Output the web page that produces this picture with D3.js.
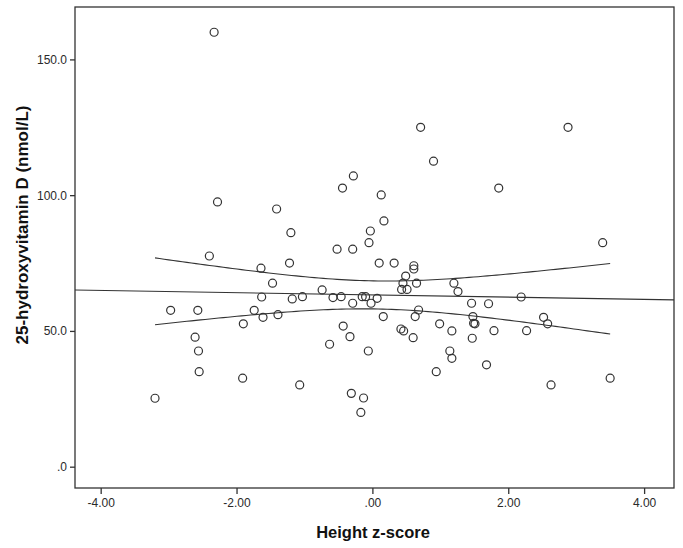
<!DOCTYPE html>
<html>
<head>
<meta charset="utf-8">
<script src="https://cdn.jsdelivr.net/npm/d3@7"></script>
<style>
  html, body { margin: 0; padding: 0; background: #fff; }
  svg { display: block; font-family: "Liberation Sans", Arial, sans-serif; }
</style>
</head>
<body>
<svg id="chart" width="683" height="548"></svg>
<script>
// Height z-score (x) for each child
const heightZ = [
  -2.33, 0.71, 2.88, 0.90, -0.28, -0.44, 0.13, 1.86, -2.28, -1.41,
  0.17, -0.03, -1.20, -0.05, 3.39, -0.52, -0.29, -2.40, -1.22, 0.10,
  0.32, -1.64, 0.61, 0.61, 0.49, -1.47, 0.45, 0.65, 1.20, 0.43,
  0.51, 1.26, -0.74, -1.63, -1.18, -1.03, -0.58, -0.46, -0.15, -0.10,
  0.07, 2.19, 1.71, -0.29, -0.02, 1.46, -2.97, -2.57, -1.74, 0.68,
  -1.39, -1.61, 0.16, 0.63, 1.48, 2.52, -1.90, 1.49, 1.51, 2.58,
  -0.43, 0.99, 1.17, 1.79, 2.27, 0.42, 0.46, -2.61, -0.33, 0.60,
  1.47, -0.63, -2.56, -0.06, 1.14, 1.17, 1.68, -2.55, 0.94, -1.91,
  3.50, -1.07, 2.63, -0.31, -3.20, -0.13, -0.17
];
// 25-hydroxyvitamin D (nmol/L) for each child
const vitaminD = [
  160.0, 125.0, 125.0, 112.5, 107.1, 102.6, 100.1, 102.6, 97.5, 94.9,
  90.5, 86.8, 86.2, 82.5, 82.5, 80.1, 80.1, 77.6, 75.0, 75.0,
  75.0, 73.1, 74.0, 72.8, 70.2, 67.6, 67.6, 67.6, 67.6, 65.3,
  65.3, 64.5, 65.1, 62.5, 61.8, 62.6, 62.3, 62.6, 62.6, 62.6,
  62.0, 62.5, 60.0, 60.2, 60.2, 60.2, 57.6, 57.6, 57.6, 57.7,
  56.0, 55.0, 55.3, 55.3, 55.3, 55.0, 52.6, 52.8, 52.6, 52.6,
  51.8, 52.6, 50.0, 50.1, 50.1, 50.7, 50.0, 47.7, 47.9, 47.5,
  47.3, 45.1, 42.6, 42.6, 42.6, 39.9, 37.5, 35.0, 35.0, 32.6,
  32.6, 30.1, 30.1, 27.0, 25.2, 25.3, 20.0
];
const xTicks = [-4, -2, 0, 2, 4];
const yTicks = [0, 50, 100, 150];
const xTickLabels = ["-4.00", "-2.00", ".00", "2.00", "4.00"];
const yTickLabels = [".0", "50.0", "100.0", "150.0"];

(function () {
const svg = d3.select("#chart");
const mLeft = 75, mRight = 674, mTop = 7, mBottom = 488;

const x = d3.scaleLinear().domain([-4.378, 4.44]).range([mLeft, mRight]);
const y = d3.scaleLinear().domain([-7.85, 169.3]).range([mBottom, mTop]);

// frame
svg.append("rect")
  .attr("x", mLeft).attr("y", mTop)
  .attr("width", mRight - mLeft).attr("height", mBottom - mTop)
  .attr("fill", "none").attr("stroke", "#333").attr("stroke-width", 1.3);

// axes
const xAxis = d3.axisBottom(x).tickValues(xTicks)
  .tickFormat((d, i) => xTickLabels[i]).tickSize(6).tickPadding(4);
const yAxis = d3.axisLeft(y).tickValues(yTicks)
  .tickFormat((d, i) => yTickLabels[i]).tickSize(5).tickPadding(3);

const gx = svg.append("g").attr("transform", `translate(0,${mBottom})`).call(xAxis);
const gy = svg.append("g").attr("transform", `translate(${mLeft},0)`).call(yAxis);
[gx, gy].forEach(g => {
  g.select(".domain").remove();
  g.selectAll(".tick line").attr("stroke", "#333").attr("stroke-width", 1.3);
  g.selectAll(".tick text").attr("fill", "#2a2a2a")
    .style("font-family", "'Liberation Sans', Arial, sans-serif")
    .style("font-size", "12px");
});

// regression (OLS) and 95% CI of the mean, computed from the data
const n = heightZ.length;
const mx = d3.mean(heightZ), my = d3.mean(vitaminD);
let sxx = 0, sxy = 0;
for (let i = 0; i < n; i++) {
  sxx += (heightZ[i] - mx) ** 2;
  sxy += (heightZ[i] - mx) * (vitaminD[i] - my);
}
const b = sxy / sxx, a = my - b * mx;
let sse = 0;
for (let i = 0; i < n; i++) sse += (vitaminD[i] - (a + b * heightZ[i])) ** 2;
const s = Math.sqrt(sse / (n - 2));
const tcrit = 1.988;
const [xmin, xmax] = d3.extent(heightZ);
const xs = d3.range(0, 101).map(k => xmin + (xmax - xmin) * k / 100);
const hw = xv => tcrit * s * Math.sqrt(1 / n + (xv - mx) ** 2 / sxx);

const line = d3.line().x(d => x(d[0])).y(d => y(d[1]));
const lineStyle = g => g.attr("fill", "none").attr("stroke", "#333").attr("stroke-width", 1.1);

svg.append("path")
  .datum([[x.domain()[0], a + b * x.domain()[0]], [x.domain()[1], a + b * x.domain()[1]]])
  .attr("d", line).call(lineStyle);
svg.append("path").datum(xs.map(v => [v, a + b * v + hw(v)])).attr("d", line).call(lineStyle);
svg.append("path").datum(xs.map(v => [v, a + b * v - hw(v)])).attr("d", line).call(lineStyle);

// points
svg.append("g").selectAll("circle")
  .data(heightZ.map((v, i) => [v, vitaminD[i]]))
  .join("circle")
  .attr("cx", d => x(d[0])).attr("cy", d => y(d[1]))
  .attr("r", 4)
  .attr("fill", "none").attr("stroke", "#333").attr("stroke-width", 1.2);

// axis titles
svg.append("text")
  .attr("x", 373).attr("y", 538)
  .attr("text-anchor", "middle")
  .style("font-size", "16.5px").style("font-weight", "bold").attr("fill", "#111")
  .text("Height z-score");
svg.append("text")
  .attr("transform", "translate(28,225) rotate(-90)")
  .attr("text-anchor", "middle")
  .style("font-size", "17px").style("font-weight", "bold").attr("fill", "#111")
  .text("25-hydroxyvitamin D (nmol/L)");
})();
</script>
</body>
</html>
